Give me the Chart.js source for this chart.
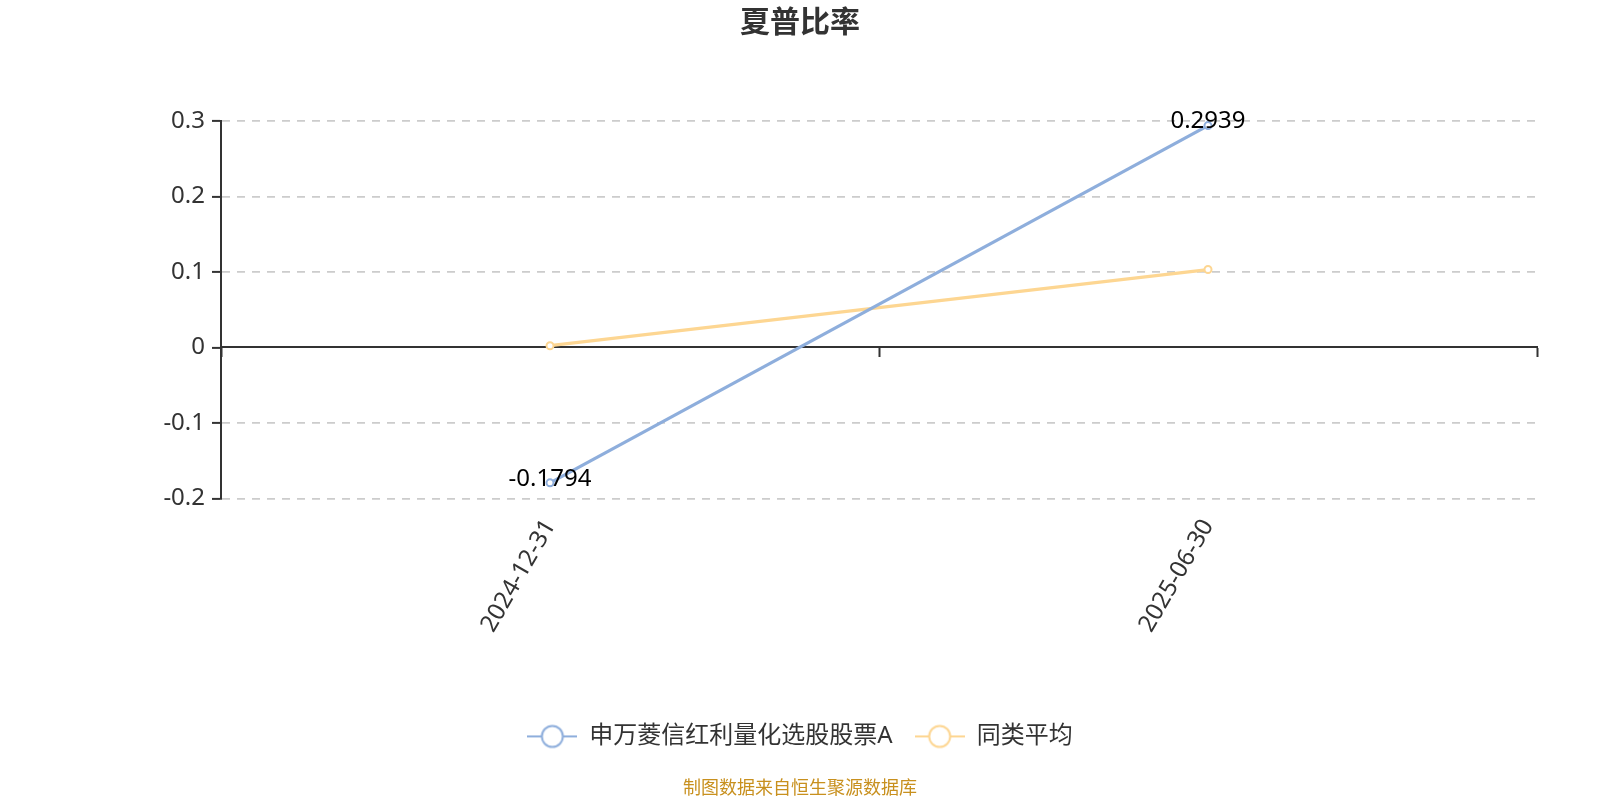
<!DOCTYPE html>
<html>
<head>
<meta charset="utf-8">
<script src="https://cdn.jsdelivr.net/npm/chart.js@4/dist/chart.umd.min.js"></script>
<style>
  html, body { margin: 0; padding: 0; background: #fff; }
  #wrap { width: 1600px; height: 800px; }
</style>
</head>
<body>
<div id="wrap"><canvas id="c" width="1600" height="800"></canvas></div>
<script>
const categories = ['2024-12-31', '2025-06-30'];
const fundName = '申万菱信红利量化选股股票A';
const fundValues = [-0.1794, 0.2939];
const avgName = '同类平均';
const avgValues = [0.0023, 0.1032];
const yTicks = [-0.2, -0.1, 0, 0.1, 0.2, 0.3];
const titleText = '夏普比率';
const footerText = '制图数据来自恒生聚源数据库';

const BLUE = '#8eaedc';
const YELLOW = '#fdd692';
const FONT = "'Noto Sans', 'Noto Sans CJK SC', sans-serif";

function legendIcon(color) {
  const c = document.createElement('canvas');
  c.width = 50; c.height = 26;
  const g = c.getContext('2d');
  g.strokeStyle = color; g.lineWidth = 2;
  g.beginPath(); g.moveTo(0, 13); g.lineTo(50, 13); g.stroke();
  g.beginPath(); g.arc(25, 13, 10.5, 0, Math.PI * 2);
  g.fillStyle = '#fff'; g.fill(); g.stroke();
  return c;
}

const valueLabels = {
  id: 'valueLabels',
  afterDatasetsDraw(chart) {
    const ctx = chart.ctx;
    const meta = chart.getDatasetMeta(0);
    const ds = chart.data.datasets[0];
    ctx.save();
    ctx.font = '24px ' + FONT;
    ctx.fillStyle = '#000';
    ctx.textAlign = 'center';
    ctx.textBaseline = 'middle';
    meta.data.forEach((pt, i) => {
      ctx.fillText(String(ds.data[i]), pt.x, pt.y - 4);
    });
    ctx.restore();
  }
};

new Chart(document.getElementById('c'), {
  type: 'line',
  data: {
    labels: categories,
    datasets: [
      {
        label: fundName, data: fundValues,
        borderColor: BLUE, backgroundColor: '#fff', borderWidth: 3.3,
        pointRadius: 3.5, pointBorderWidth: 2, pointBackgroundColor: '#fff', pointBorderColor: BLUE,
        tension: 0, order: 1
      },
      {
        label: avgName, data: avgValues,
        borderColor: YELLOW, backgroundColor: '#fff', borderWidth: 3.3,
        pointRadius: 3.5, pointBorderWidth: 2, pointBackgroundColor: '#fff', pointBorderColor: YELLOW,
        tension: 0, order: 2
      }
    ]
  },
  options: {
    responsive: false,
    animation: false,
    devicePixelRatio: 1,
    layout: { padding: 0 },
    plugins: {
      title: {
        display: true, text: titleText, color: '#333',
        font: { family: FONT, size: 30, weight: 'bold' },
        padding: { top: 5, bottom: 80 }
      },
      subtitle: {
        display: true, text: footerText, position: 'bottom', color: '#c8901e',
        font: { family: FONT, size: 18 },
        padding: { top: 20, bottom: 0 }
      },
      legend: {
        position: 'bottom',
        labels: {
          usePointStyle: true,
          pointStyleWidth: 50,
          padding: 22,
          color: '#333',
          font: { family: FONT, size: 24 },
          generateLabels(chart) {
            return chart.data.datasets.map((ds, i) => ({
              text: ds.label,
              fillStyle: '#fff',
              strokeStyle: ds.borderColor,
              fontColor: '#333',
              lineWidth: 2,
              pointStyle: legendIcon(ds.borderColor),
              hidden: !chart.isDatasetVisible(i),
              datasetIndex: i
            }));
          }
        }
      },
      tooltip: { enabled: false }
    },
    scales: {
      x: {
        type: 'category',
        position: 'bottom',
        offset: true,
        afterFit(scale) { scale.height = 204; },
        grid: { display: false },
        border: { display: false },
        ticks: {
          color: '#333', font: { family: FONT, size: 24 },
          minRotation: 60, maxRotation: 60, padding: 8
        }
      },
      x2: {
        type: 'category',
        position: { y: 0 },
        offset: true,
        labels: categories,
        grid: {
          offset: true, drawOnChartArea: false, drawTicks: true,
          tickLength: 9, tickColor: '#333', tickWidth: 2
        },
        border: { display: true, color: '#333', width: 2 },
        ticks: { display: false }
      },
      y: {
        min: -0.2, max: 0.3,
        afterFit(scale) { scale.width = 221; },
        afterBuildTicks(scale) { scale.ticks = yTicks.map(v => ({ value: v })); },
        grid: {
          color: (c) => (c.tick && Math.abs(c.tick.value) < 1e-9) ? 'rgba(0,0,0,0)' : '#cccccc',
          lineWidth: 1.8,
          tickColor: '#333', tickWidth: 2, tickLength: 9
        },
        border: { display: true, color: '#333', width: 2, dash: [8, 7] },
        ticks: {
          color: '#333', font: { family: FONT, size: 24 }, padding: 7,
          callback: (v) => String(Math.round(v * 10) / 10)
        }
      },
      yR: {
        type: 'linear',
        position: 'right',
        display: true,
        afterFit(scale) { scale.width = 63; },
        grid: { display: false },
        border: { display: false },
        ticks: { display: false }
      }
    }
  },
  plugins: [valueLabels]
});
</script>
</body>
</html>
